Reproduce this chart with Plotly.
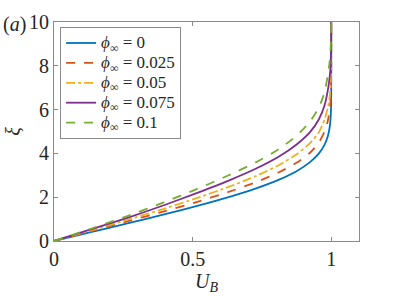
import plotly.graph_objects as go

# Data (U_B on x, xi on y)
U_0 = [0, 0.1328, 0.2647, 0.3938, 0.5168, 0.6298, 0.7290, 0.8115, 0.8761, 0.9233,
       0.9555, 0.9759, 0.9878, 0.9943, 0.9975, 0.9990, 0.9996, 0.9999, 1.0]
xi_0 = [0, 0.4, 0.8, 1.2, 1.6, 2.0, 2.4, 2.8, 3.2, 3.6,
        4.0, 4.4, 4.8, 5.2, 5.6, 6.0, 6.4, 7.0, 10.0]

U_025 = U_0
xi_025 = [0, 0.45, 0.9, 1.34, 1.79, 2.24, 2.69, 3.14, 3.58, 4.03,
          4.5, 5.0, 5.5, 6.0, 6.45, 6.9, 7.4, 8.0, 10.0]

U_05 = U_0
xi_05 = [0, 0.48, 0.97, 1.46, 1.97, 2.47, 2.97, 3.47, 3.97, 4.47,
         4.97, 5.55, 6.1, 6.6, 7.1, 7.6, 8.1, 8.8, 10.0]

U_075 = U_0
xi_075 = [0, 0.53, 1.06, 1.62, 2.2, 2.76, 3.31, 3.86, 4.42, 4.97,
          5.56, 6.2, 6.9, 7.5, 8.0, 8.5, 9.0, 9.6, 10.0]

U_1 = [0, 0.1328, 0.2647, 0.3938, 0.5168, 0.6298, 0.7290, 0.8115, 0.8761, 0.9233,
       0.9555, 0.9759, 0.9878, 0.9943, 0.9975, 0.9990, 0.9996, 1.0]
xi_1 = [0, 0.56, 1.14, 1.75, 2.38, 3.0, 3.6, 4.2, 4.82, 5.45,
        6.1, 6.8, 7.6, 8.2, 8.8, 9.3, 9.7, 10.0]

phi_labels = ["0", "0.025", "0.05", "0.075", "0.1"]
x_ticks = [0, 0.5, 1]
x_ticklabels = ["0", "0.5", "1"]
y_ticks = [0, 2, 4, 6, 8, 10]

series = [
    (U_0, xi_0, "#0072BD", "solid"),
    (U_025, xi_025, "#D95319", "dash"),
    (U_05, xi_05, "#EDB120", "dashdot"),
    (U_075, xi_075, "#7E2F8E", "solid"),
    (U_1, xi_1, "#77AC30", "dash"),
]

FONT = "Liberation Serif"

fig = go.Figure()
for (u, xi, col, dash), lab in zip(series, phi_labels):
    fig.add_trace(go.Scatter(
        x=u, y=xi, mode="lines",
        line=dict(color=col, width=1.8, dash=dash, shape="spline", smoothing=0.6),
        name=f"<span style='font-size:17px'><i>ϕ</i><sub>∞</sub> = {lab}</span>",
    ))

axis_common = dict(
    showline=True, linecolor="#8a8a8a", linewidth=1, mirror="ticks",
    ticks="inside", ticklen=4, tickcolor="#8a8a8a", tickwidth=1,
    showgrid=False, zeroline=False,
    tickfont=dict(family=FONT, size=20, color="#262626"),
)

fig.update_layout(
    width=397, height=297,
    margin=dict(l=54, r=38, t=22, b=56),
    paper_bgcolor="white", plot_bgcolor="white",
    font=dict(family=FONT, color="#262626"),
    xaxis=dict(range=[0, 1.1], tickvals=x_ticks, ticktext=x_ticklabels,
               title=dict(text="<i>U</i><sub><i>B</i></sub>", font=dict(family=FONT, size=20), standoff=0),
               **axis_common),
    yaxis=dict(range=[0, 10], tickvals=y_ticks,
               title=dict(text="<i>ξ</i>", font=dict(family=FONT, size=20), standoff=3),
               **axis_common),
    legend=dict(x=0.02, y=0.977, xanchor="left", yanchor="top",
                bgcolor="white", bordercolor="#8a8a8a", borderwidth=1,
                font=dict(family=FONT, size=13, color="#262626"),
                itemwidth=30, tracegroupgap=0),
    showlegend=True,
    annotations=[dict(text="(<i>a</i>)", x=0, y=1.0, xref="paper", yref="paper",
                      xanchor="left", yanchor="middle", showarrow=False,
                      xshift=-53, yshift=-2,
                      font=dict(family=FONT, size=20, color="#262626"))],
)

fig.write_html("out.html", config={"displayModeBar": False},
               post_script="document.body.style.margin='0px';")
